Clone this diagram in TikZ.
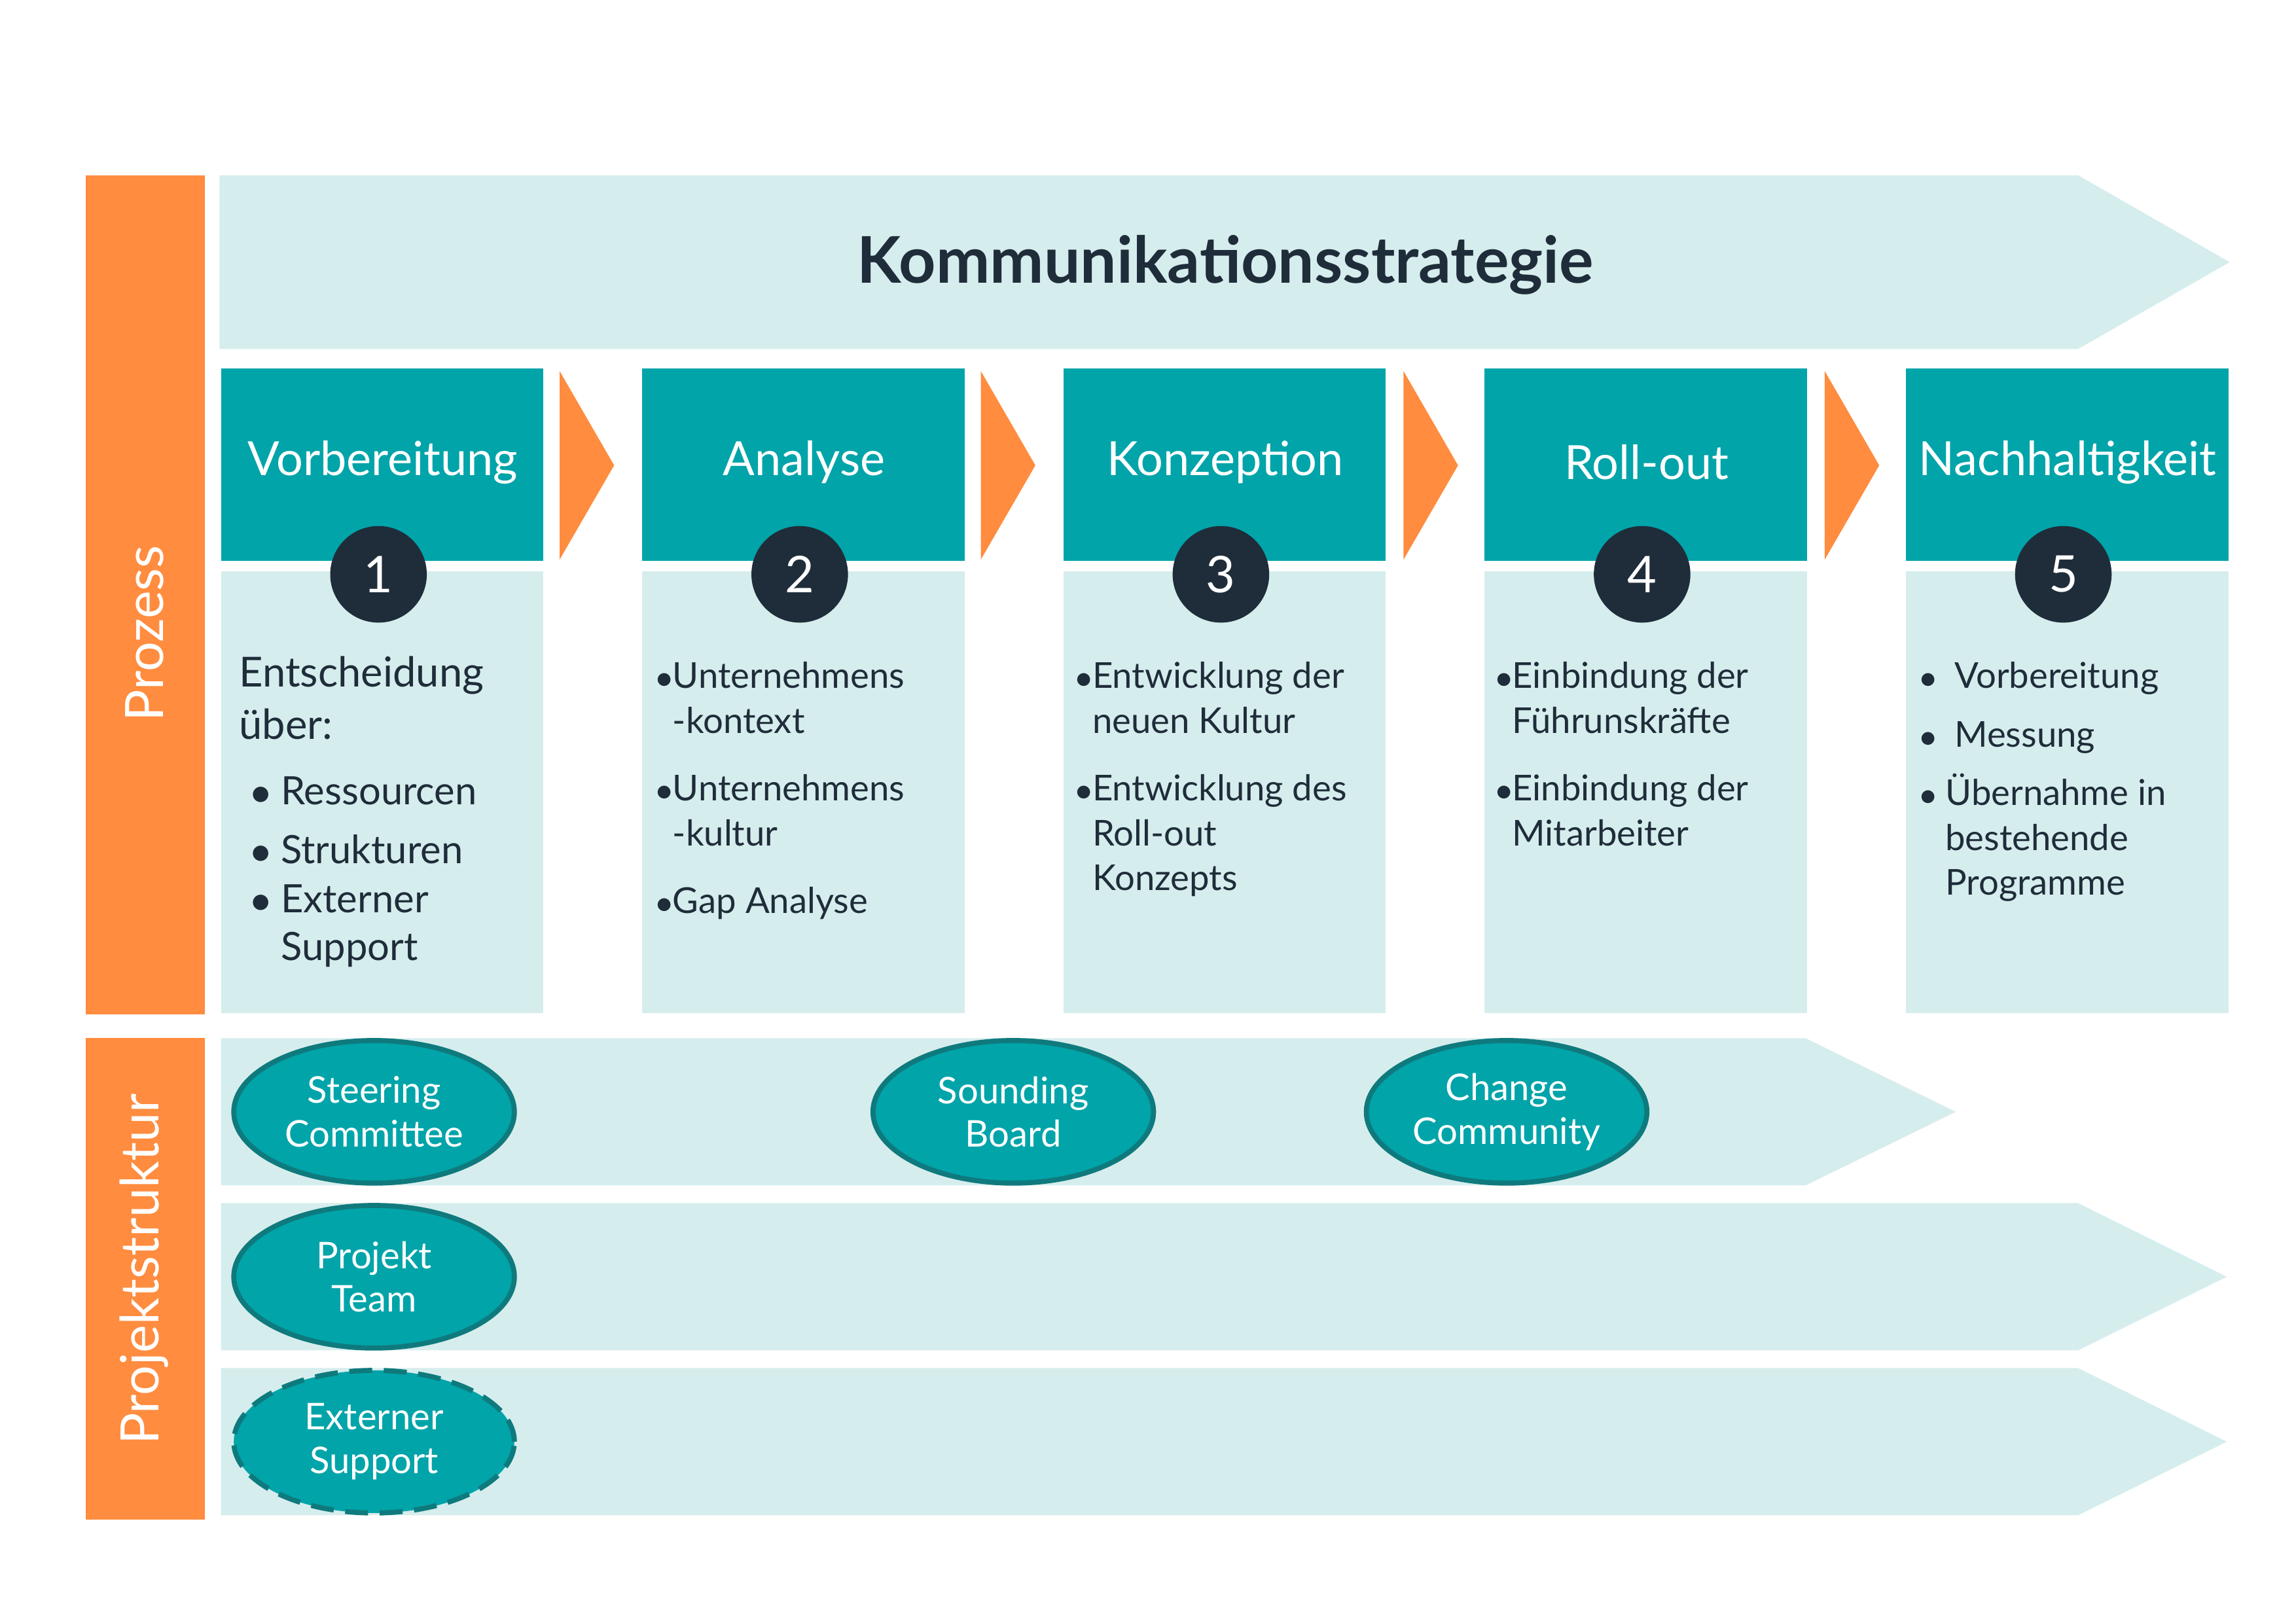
\documentclass[tikz,border=0pt]{standalone}
\usepackage{fontspec}
\setmainfont{Lato}
\usetikzlibrary{shapes.geometric}
\begin{document}
\begin{tikzpicture}[x=0.0225cm,y=-0.0225cm,
  num/.style={circle,fill=darkc,minimum size=42pt,inner sep=0pt,text=white,font=\fontsize{22}{22}\selectfont},
  ell/.style={ellipse,draw=bordc,line width=2.2pt,fill=tealc,minimum width=122pt,minimum height=62pt,inner sep=0pt,align=center,text=white,font=\fontsize{16}{19}\selectfont},
  htxt/.style={text=white,font=\fontsize{20.5}{22}\selectfont},
  btxt/.style={text=darkc,anchor=north west,align=left,font=\fontsize{15.5}{19.5}\selectfont}]
\definecolor{lightc}{HTML}{D6EDED}
\definecolor{tealc}{HTML}{00A4A9}
\definecolor{darkc}{HTML}{1F2D3A}
\definecolor{orangec}{HTML}{FF8C3F}
\definecolor{bordc}{HTML}{0F7A7D}
\useasboundingbox (0,0) rectangle (1559,1102);
% side bars
\fill[orangec] (58,119) rectangle (139,689);
\fill[orangec] (58,705) rectangle (139,1032);
\node[rotate=90,text=white,font=\fontsize{23}{23}\selectfont] (pz) at (98,430) {Prozess};
\node[rotate=90,text=white,font=\fontsize{23}{23}\selectfont] (ps) at (98,862) {Projektstruktur};
% top arrow
\fill[lightc] (149,119) -- (1411,119) -- (1514,178) -- (1411,237) -- (149,237) -- cycle;
\node[text=darkc,font=\bfseries\fontsize{28}{28}\selectfont] (title) at (832,180) {Kommunikationsstrategie};
% columns
\foreach \x/\t/\n in {150/Vorbereitung/1,436/Analyse/2,722/Konzeption/3,1008/Roll-out/4,1294/Nachhaltigkeit/5}{
  \fill[lightc] (\x,388) rectangle ++(219,300);
  \fill[tealc] (\x,250) rectangle ++(219,131);
  \node[htxt] (h\n) at (\x+110,314) {\t};
  \node[num] (n\n) at (\x+107,390) {\n};
}
\foreach \x in {380,666,953,1239}{
  \fill[orangec] (\x,252) -- (\x+37,316) -- (\x,380) -- cycle;
}
% texts
\node[btxt,font=\fontsize{18}{23}\selectfont] (t1a) at (157,440) {Entscheidung\\über:};
\node[btxt,font=\fontsize{17}{20.5}\selectfont] (t1b) at (165,522) {$\bullet$ Ressourcen\\[5pt]$\bullet$ Strukturen\\[1pt]$\bullet$ Externer\\\phantom{$\bullet$ }Support};
\node[btxt] (t2) at (440,444) {$\bullet$Unternehmens\\\phantom{$\bullet$}-kontext\\[10pt]$\bullet$Unternehmens\\\phantom{$\bullet$}-kultur\\[10pt]$\bullet$Gap Analyse};
\node[btxt] (t3) at (725,444) {$\bullet$Entwicklung der\\\phantom{$\bullet$}neuen Kultur\\[10pt]$\bullet$Entwicklung des\\\phantom{$\bullet$}Roll-out\\\phantom{$\bullet$}Konzepts};
\node[btxt] (t4) at (1010,444) {$\bullet$Einbindung der\\\phantom{$\bullet$}Führunskräfte\\[10pt]$\bullet$Einbindung der\\\phantom{$\bullet$}Mitarbeiter};
\node[btxt] (t5) at (1298,444) {$\bullet$\ \ Vorbereitung\\[6pt]$\bullet$\ \ Messung\\[6pt]$\bullet$\ Übernahme in\\\phantom{$\bullet$\ }bestehende\\\phantom{$\bullet$\ }Programme};
% bottom arrows
\fill[lightc] (150,705) -- (1226,705) -- (1328,755) -- (1226,805) -- (150,805) -- cycle;
\fill[lightc] (150,817) -- (1411,817) -- (1512,867) -- (1411,917) -- (150,917) -- cycle;
\fill[lightc] (150,929) -- (1411,929) -- (1512,979) -- (1411,1029) -- (150,1029) -- cycle;
\node[ell] (e1) at (254,755) {Steering\\Committee};
\node[ell] (e2) at (688,755) {Sounding\\Board};
\node[ell] (e3) at (1023,755) {Change\\Community};
\node[ell] (e4) at (254,867) {Projekt\\Team};
\node[ell,dash pattern=on 10pt off 5pt] (e5) at (254,979) {Externer\\Support};
\end{tikzpicture}
\end{document}
